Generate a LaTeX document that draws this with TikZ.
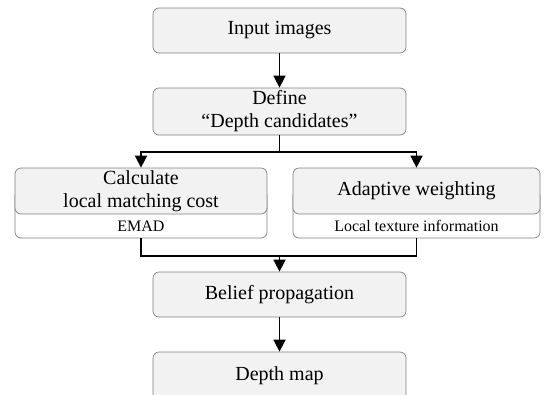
\documentclass[tikz,border=0pt]{standalone}
\usepackage{fontspec}
\setmainfont{Liberation Serif}
\usetikzlibrary{arrows.meta}
\definecolor{boxgray}{HTML}{F2F2F2}
\definecolor{edgegray}{HTML}{808080}

\begin{document}
\begin{tikzpicture}[x=1pt,y=-1pt]
\tikzset{every node/.style={rectangle, rounded corners=6pt, draw=edgegray, line width=0.7pt, align=center, inner sep=0pt}}
\tikzset{box/.style={fill=boxgray, font=\fontsize{20}{23}\selectfont}}
\tikzset{frame/.style={fill=white}}
\tikzset{subtext/.style={draw=none, fill=none, font=\fontsize{16}{18}\selectfont}}
\tikzset{flow/.style={line width=1.5pt, -{Triangle[length=12pt,width=12pt]}}}
\clip (0,0) rectangle (545,394);

\node[box, minimum width=253pt, minimum height=45pt] (input) at (279.5,30.5) {Input images};
\node[box, minimum width=253pt, minimum height=47pt] (define) at (279.5,111.5) {Define\\``Depth candidates''};

% left and right branch
\node[frame, minimum width=252pt, minimum height=48pt] (calcframe) at (141,214) {};
\node[box, minimum width=252pt, minimum height=46pt] (calc) at (141,191) {Calculate\\local matching cost};
\node[subtext] (emad) at (141,226) {EMAD};
\node[frame, minimum width=247pt, minimum height=48pt] (adaptframe) at (416.5,214) {};
\node[box, minimum width=247pt, minimum height=46pt] (adapt) at (416.5,191) {Adaptive weighting};
\node[subtext] (texture) at (416.5,226) {Local texture information};

\node[box, minimum width=253pt, minimum height=45pt] (bp) at (279.5,294.5) {Belief propagation};
\node[box, minimum width=253pt, minimum height=48pt] (depth) at (279.5,376) {Depth map};

\coordinate (split) at (279.5,152);
\coordinate (merge) at (279.5,256);

\draw[flow] (input) -- (define);
\draw[line width=1.5pt] (define) -- (split);
\foreach \to in {calc,adapt}
{
	\draw[flow] (split) -| (\to.north);
}
\foreach \from in {calcframe,adaptframe}
{
	\draw[line width=1.5pt] (\from.south) |- (merge);
}
\draw[flow] (merge) -- (bp);
\draw[flow] (bp) -- (depth);

\end{tikzpicture}
\end{document}
